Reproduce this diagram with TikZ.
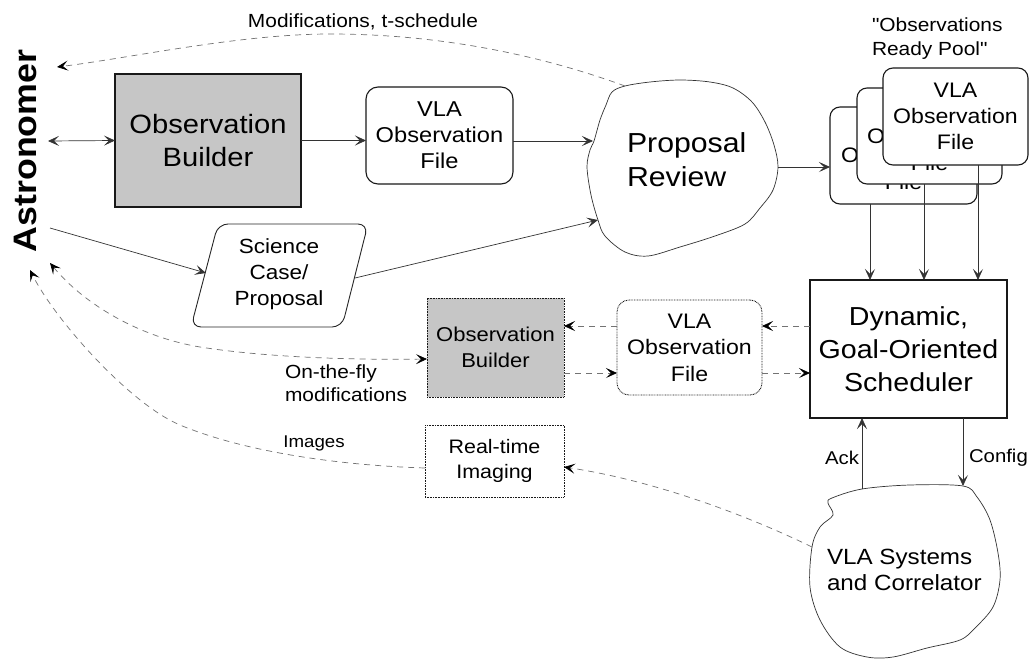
\documentclass[tikz,border=0pt]{standalone}
\usepackage{fontspec}
\setmainfont{Liberation Sans}[FakeStretch=1.1, Ligatures=TeXOff]
\usetikzlibrary{arrows.meta,calc}
\newcommand\myfs[2]{\fontsize{#1}{#2}\selectfont}
\begin{document}
\begin{tikzpicture}[x=1pt,y=-1pt,
  every node/.style={inner sep=0pt, outer sep=0pt, text=black},
  solidbox/.style={draw=black!90, line width=1.1pt, align=center},
  dotbox/.style={draw=black!90, line width=0.9pt, dash pattern=on 0.8pt off 0.8pt, align=center},
  graybox/.style={fill={rgb,255:red,198;green,198;blue,198}},
  conn/.style={draw=black!80, line width=0.7pt, >={Stealth[length=11pt,width=10pt,inset=5pt]}},
  dconn/.style={draw=black!55, line width=0.7pt, dash pattern=on 6pt off 5pt, >={Stealth[length=11pt,width=10pt,inset=5pt,color=black]}},
  cloudline/.style={draw=black!80, line width=0.7pt},
]
\useasboundingbox (0,0) rectangle (1029,659);
\fill[white] (0,0) rectangle (1029,659);

% Astronomer
\node[rotate=90, anchor=base, font=\bfseries\myfs{32.5}{40}] (astro) at (36,151) {Astronomer};

% top row
\node[solidbox, graybox, minimum width=186pt, minimum height=133pt, font=\myfs{26.5}{33}] (ob1) at (208,140.5) {Observation\\Builder};
\node[solidbox, rounded corners=12pt, minimum width=147pt, minimum height=97pt, font=\myfs{21.5}{26}] (vf1) at (439.5,135.5) {VLA\\Observation\\File};

% Proposal review cloud
\draw[cloudline] plot[smooth cycle, tension=0.55] coordinates {
 (612,92) (625,86) (650,82) (680,80) (710,82) (733,88) (752,102) (765,122) (774,145) (778,167)
 (773,190) (760,208) (745,224) (715,236) (680,247) (648,256) (625,252) (605,236) (598,220)
 (591,195) (587,167) (590,150) (594,141) (600,120) (606,105)};
\node[align=left, anchor=west, font=\myfs{27.5}{34}] (pr) at (627,160) {Proposal\\Review};

% observations ready pool
\node[align=left, anchor=west, font=\myfs{19}{24}] (pool) at (872,39) {"Observations\\Ready Pool"};
\node[solidbox, fill=white, rounded corners=10pt, minimum width=147pt, minimum height=97pt, font=\myfs{21}{27}] (sb) at (903.5,155.5) {VLA\\Observation\\File};
\node[solidbox, fill=white, rounded corners=10pt, minimum width=145pt, minimum height=96pt, font=\myfs{21}{27}] (sm) at (929.5,136) {VLA\\Observation\\File};
\node[solidbox, fill=white, rounded corners=10pt, minimum width=145pt, minimum height=97pt, font=\myfs{21}{26}] (sf) at (955.5,116.5) {VLA\\Observation\\File};

% science case
\draw[draw=black!85, line width=0.9pt, rounded corners=10pt] (218,224) -- (368,224) -- (342,327) -- (191,327) -- cycle;
\node[align=center, font=\myfs{20.5}{26}] (sc) at (279,274) {Science\\Case/\\Proposal};

% scheduler
\node[solidbox, minimum width=197pt, minimum height=138pt, font=\myfs{26}{33}] (sch) at (908.5,349) {Dynamic,\\Goal-Oriented\\Scheduler};

% lower row
\node[dotbox, rounded corners=12pt, minimum width=145pt, minimum height=95pt, font=\myfs{21}{26.5}] (vf2) at (689.5,347.5) {VLA\\Observation\\File};
\node[dotbox, graybox, minimum width=137pt, minimum height=99pt, font=\myfs{20}{26}] (ob2) at (495.5,347.5) {Observation\\Builder};
\node[dotbox, minimum width=139pt, minimum height=72pt, font=\myfs{19.5}{25}] (rti) at (494.5,461) {Real-time\\Imaging};

% VLA systems cloud
\draw[cloudline] plot[smooth cycle, tension=0.55] coordinates {
 (832,498) (862,489) (910,485) (963,486) (977,497) (990,520) (998,553) (1000,580) (993,607)
 (975,628) (960,640) (927,648) (893,657) (867,657) (840,647) (820,620) (810,587) (812,547)
 (820,527) (833,515) (828,503)};
\node[align=left, anchor=west, font=\myfs{22}{26}] (vsys) at (827,570) {VLA Systems\\and Correlator};

% labels
\node[font=\myfs{19}{23}] (modl) at (363,22) {Modifications, t-schedule};
\node[align=left, anchor=west, font=\myfs{19}{23}] (otf) at (285,383.5) {On-the-fly\\modifications};
\node[font=\myfs{17}{20}] (imgl) at (314,443) {Images};
\node[anchor=east, font=\myfs{18.5}{22}] (ackl) at (859,458) {Ack};
\node[anchor=west, font=\myfs{18.5}{22}] (cfgl) at (969,458) {Config};

% coordinates
\coordinate (a1) at (48,141);
\coordinate (a2) at (50,228);
\coordinate (a3) at (50,263);
\coordinate (a4) at (30,270);
\coordinate (a5) at (57,67);
\coordinate (scl) at (206,273);
\coordinate (scr) at (355,278);
\coordinate (pin1) at (593,141);
\coordinate (pin2) at (598,220);
\coordinate (pm) at (625,86);
\coordinate (pout) at (778,167);
\coordinate (vs1) at (812,547);
\coordinate (ack1) at (862,489);
\coordinate (cfg1) at (963,486);
\path (sb.south west) ++(40,0) coordinate (d1);
\path (sm.south west) ++(67,0) coordinate (d2);
\path (sf.south west) ++(95,0) coordinate (d3);
\path (sch.west) ++(0,-23) coordinate (s1);
\path (sch.west) ++(0,24) coordinate (s2);
\path (ob2.west) ++(0,11.5) coordinate (o1);
\path (rti.west) ++(0,7) coordinate (r1);
\path (rti.east) ++(0,6) coordinate (r2);

% solid connectors
\draw[conn,<->] (a1) -- (ob1.west);
\draw[conn,->] (ob1.east) -- (ob1.east -| vf1.west);
\draw[conn,->] (vf1.east |- pin1) -- (pin1);
\draw[conn,->] (a2) -- (scl);
\draw[conn,->] (scr) -- (pin2);
\draw[conn,->] (pout) -- (pout -| sb.west);
\draw[conn,->] (d1) -- (d1 |- sch.north);
\draw[conn,->] (d2) -- (d2 |- sch.north);
\draw[conn,->] (d3) -- (d3 |- sch.north);
\draw[conn,->] (ack1) -- (ack1 |- sch.south);
\draw[conn,->] (cfg1 |- sch.south) -- (cfg1);

% dashed connectors
\draw[dconn,->] (pm) .. controls (540,55) and (440,34) .. (330,34) .. controls (240,34) and (130,58) .. (a5);
\draw[dconn,->] (s1) -- (s1 -| vf2.east);
\draw[dconn,->] (s2 -| vf2.east) -- (s2);
\draw[dconn,->] (s1 -| vf2.west) -- (s1 -| ob2.east);
\draw[dconn,->] (s2 -| ob2.east) -- (s2 -| vf2.west);
\draw[dconn,<->] (a3) .. controls (85,305) and (140,337) .. (200,347) .. controls (270,358) and (360,360) .. (o1);
\draw[dconn,->] (r1) .. controls (330,465) and (240,450) .. (180,425) .. controls (130,404) and (55,320) .. (a4);
\draw[dconn,->] (vs1) .. controls (740,512) and (650,480) .. (r2);
\end{tikzpicture}
\end{document}
